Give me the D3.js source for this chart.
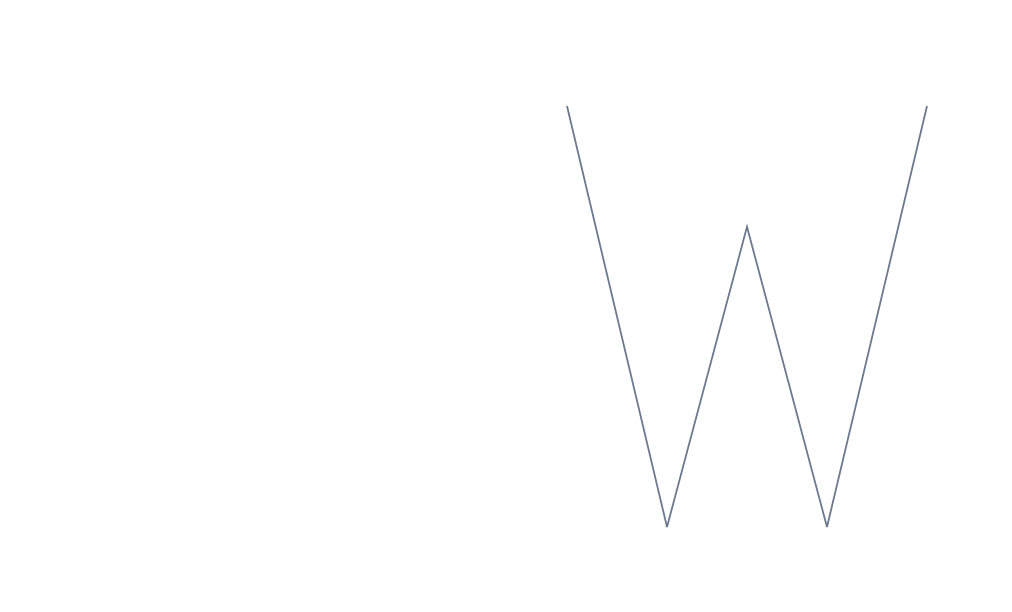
<!DOCTYPE html>
<html>
<head>
<meta charset="utf-8">
<script src="https://cdn.jsdelivr.net/npm/d3@7"></script>
<style>
  html, body { margin: 0; padding: 0; background: #fff; }
  svg { display: block; }
</style>
</head>
<body>
<div class="output"><svg></svg></div>
<script>
// points of the single line
var dataX = [0, 5, 9, 13, 18];
var dataY = [100, 0, 71.3, 0, 100];

var width = 1012, height = 612;

var svg = d3.select("div.output svg")
  .attr("width", width)
  .attr("height", height);

var x = d3.scaleLinear()
  .domain([0, 18])
  .range([567, 927]);

var y = d3.scaleLinear()
  .domain([0, 100])
  .range([527, 106]);

var line = d3.line()
  .x(function(d, i) { return x(dataX[i]) })
  .y(function(d, i) { return y(d) });

svg.append("path")
  .datum(dataY)
  .attr("d", line)
  .style("fill", "none")
  .style("stroke", "#6b7a8d")
  .style("stroke-width", 1.8)
  .style("stroke-linejoin", "miter");
</script>
</body>
</html>
